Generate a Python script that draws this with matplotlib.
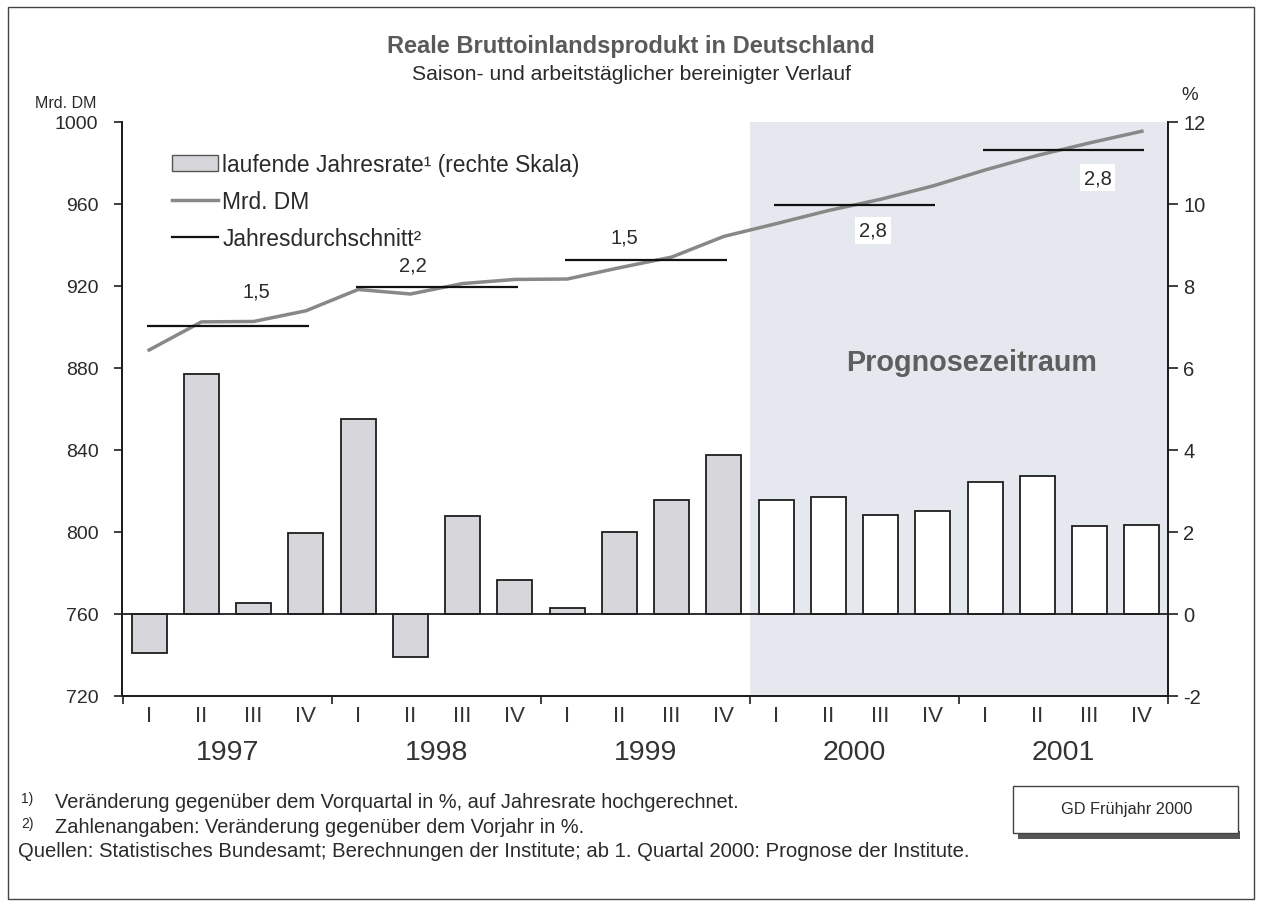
import matplotlib
matplotlib.use("Agg")
import matplotlib.pyplot as plt
from matplotlib.patches import Rectangle, Patch
from matplotlib.lines import Line2D
import matplotlib.transforms as mtransforms

plt.rcParams['font.family'] = ['Liberation Sans', 'DejaVu Sans']
plt.rcParams['axes.unicode_minus'] = False

# ---------------- data ----------------
years = ["1997", "1998", "1999", "2000", "2001"]
quarters = ["I", "II", "III", "IV"]
# laufende Jahresrate (%), right scale
rates = [-0.95, 5.85, 0.27, 1.98, 4.75, -1.05, 2.38, 0.84,
         0.15, 2.00, 2.78, 3.88, 2.77, 2.86, 2.42, 2.51,
         3.22, 3.37, 2.15, 2.17]
# real GDP level, Mrd. DM (left scale)
gdp = [888.8, 902.5, 902.7, 907.9, 918.3, 916.1, 921.2, 923.2,
       923.4, 928.9, 934.1, 944.2, 950.4, 956.8, 962.3, 968.8,
       976.6, 983.7, 989.8, 995.5]
# annual averages (Mrd. DM) and growth over previous year (%)
avg_level = [900.6, 919.6, 932.9, 959.4, 986.4]
avg_growth = [1.5, 2.2, 1.5, 2.8, 2.8]
n_hist = 12  # quarters before forecast period

left_ticks = [720, 760, 800, 840, 880, 920, 960, 1000]
right_ticks = [-2, 0, 2, 4, 6, 8, 10, 12]

# ---------------- figure ----------------
W, H = 1262, 903
fig = plt.figure(figsize=(W / 100, H / 100), dpi=100)
fig.patch.set_facecolor('white')

def fx(px):
    return px / W

def fy(py):
    return 1 - py / H

TXT = '#2a2a2a'
ax_l, ax_r, ax_t, ax_b = 122, 1168, 123, 697
ax2 = fig.add_axes([fx(ax_l), fy(ax_b), fx(ax_r) - fx(ax_l), fy(ax_t) - fy(ax_b)])
ax = ax2.twinx()
ax2.yaxis.tick_right()
ax2.yaxis.set_label_position('right')
ax.yaxis.tick_left()
ax.yaxis.set_label_position('left')
ax.set_zorder(ax2.get_zorder() + 1)
ax.patch.set_visible(False)

n = len(rates)
xs = list(range(n))

# forecast shading
ax2.axvspan(n_hist - 0.5, n - 0.5, color='#e5e8ee', zorder=0, lw=0)

# bars
colors = ['#d7d7db' if i < n_hist else 'white' for i in range(n)]
ax2.bar(xs, rates, width=0.67, color=colors, edgecolor='#1e1e1e',
        linewidth=1.3, zorder=2)
ax2.axhline(0, color='#1e1e1e', lw=1.3, zorder=3)

# GDP level line
ax.plot(xs, gdp, color='#888888', lw=2.5, zorder=4)

# annual averages
for k, lv in enumerate(avg_level):
    x0, x1 = 4 * k, 4 * k + 3
    ax.hlines(lv, x0 - 0.05, x1 + 0.05, color='#111111', lw=1.6, zorder=5)

label_pos = [(2.05, 25), (5.05, 16), (9.1, 16), (13.85, -18), (18.15, -20)]
for k, g in enumerate(avg_growth):
    xl, off = label_pos[k]
    txt = f"{g:.1f}".replace('.', ',')
    bbox = None
    if k >= 3:
        bbox = dict(boxstyle='square,pad=0.2', fc='white', ec='none')
    ax.annotate(txt, (xl, avg_level[k]), xytext=(0, off), textcoords='offset points',
                ha='center', va='center', fontsize=14.5, color=TXT, bbox=bbox, zorder=6)

# Prognosezeitraum
ax2.text(15.74, 6.15, "Prognosezeitraum", ha='center', va='center', fontsize=20.7,
         fontweight='bold', color='#5e5e5e', zorder=3)

# axes limits / ticks
ax.set_xlim(-0.52, n - 0.5)
ax2.set_xlim(-0.52, n - 0.5)
ax.set_ylim(720, 1000)
ax2.set_ylim(-2, 12)
ax.set_yticks(left_ticks)
ax.set_yticklabels([str(t) for t in left_ticks])
ax2.set_yticks(right_ticks)
ax2.set_yticklabels([str(t) for t in right_ticks])

for a in (ax, ax2):
    a.spines['top'].set_visible(False)
    for s in a.spines.values():
        s.set_color('#1e1e1e')
        s.set_linewidth(1.4)

ax.tick_params(axis='y', direction='out', length=6, width=1.2, pad=11,
               labelsize=14, colors='#1e1e1e', labelcolor=TXT)
ax2.tick_params(axis='y', direction='out', length=7, width=1.2, pad=4,
                labelsize=14.5, colors='#1e1e1e', labelcolor=TXT)

# x ticks at year boundaries
bounds = [4 * k - 0.5 for k in range(len(years) + 1)]
ax.set_xticks([])
ax2.set_xticks(bounds)
ax2.set_xticklabels([''] * len(bounds))
ax2.tick_params(axis='x', direction='out', length=6, width=1.2, colors='#1e1e1e')

trans = mtransforms.blended_transform_factory(ax2.transData, ax2.transAxes)
axh = ax_b - ax_t
for i in range(n):
    ax2.text(i, -(716 - ax_b) / axh, quarters[i % 4], transform=trans, ha='center',
             va='center', fontsize=16, color='#333333')
for k, yr in enumerate(years):
    ax2.text(4 * k + 1.5, -(753 - ax_b) / axh, yr, transform=trans, ha='center',
             va='center', fontsize=20.5, color='#333333')

# legend
handles = [Patch(facecolor='#d7d7db', edgecolor='#555555', lw=1.0),
           Line2D([0], [0], color='#888888', lw=2.5),
           Line2D([0], [0], color='#111111', lw=1.6)]
labels = ["laufende Jahresrate\u00b9 (rechte Skala)", "Mrd. DM", "Jahresdurchschnitt\u00b2"]
leg = ax.legend(handles, labels, loc='upper left',
                bbox_to_anchor=(fx(172), fy(154)), bbox_transform=fig.transFigure,
                frameon=False, fontsize=16.4, handlelength=2.0, handletextpad=0.2,
                labelspacing=0.62, borderaxespad=0, borderpad=0, handleheight=0.7)
for t in leg.get_texts():
    t.set_color(TXT)

# titles
fig.text(fx(631), fy(46), "Reale Bruttoinlandsprodukt in Deutschland", ha='center',
         va='center', fontsize=17, fontweight='bold', color='#5a5a5a')
fig.text(fx(631), fy(74), "Saison- und arbeitstäglicher bereinigter Verlauf", ha='center',
         va='center', fontsize=15.2, color=TXT)
fig.text(fx(97), fy(103), "Mrd. DM", ha='right', va='center', fontsize=11.5, color=TXT)
fig.text(fx(1190), fy(96), "%", ha='center', va='center', fontsize=13.5, color=TXT)

# footnotes
foot = [("1)", "Veränderung gegenüber dem Vorquartal in %, auf Jahresrate hochgerechnet.", 803),
        ("2)", "Zahlenangaben: Veränderung gegenüber dem Vorjahr in %.", 828)]
for sup, txt, yy in foot:
    fig.text(fx(21), fy(yy - 4), sup, ha='left', va='center', fontsize=10, color=TXT)
    fig.text(fx(55), fy(yy), txt, ha='left', va='center', fontsize=14.4, color=TXT)
fig.text(fx(18), fy(852), "Quellen: Statistisches Bundesamt; Berechnungen der Institute; "
         "ab 1. Quartal 2000: Prognose der Institute.", ha='left', va='center',
         fontsize=14.6, color=TXT)

# GD box with shadow
fig.patches.append(Rectangle((fx(1018), fy(840)), fx(1240) - fx(1018), fy(832) - fy(840),
                             transform=fig.transFigure, fc='#555555', ec='none'))
fig.patches.append(Rectangle((fx(1013), fy(834)), fx(1238) - fx(1013), fy(787) - fy(834),
                             transform=fig.transFigure, fc='white', ec='#444444', lw=1.0))
fig.text(fx(1127), fy(810), "GD Frühjahr 2000", ha='center', va='center', fontsize=11.8,
         color=TXT)

# outer frame
fig.patches.append(Rectangle((fx(8), fy(900)), fx(1254) - fx(8), fy(8) - fy(900),
                             transform=fig.transFigure, fc='none', ec='#444444', lw=1.0))

fig.savefig("out.png", dpi=100)
